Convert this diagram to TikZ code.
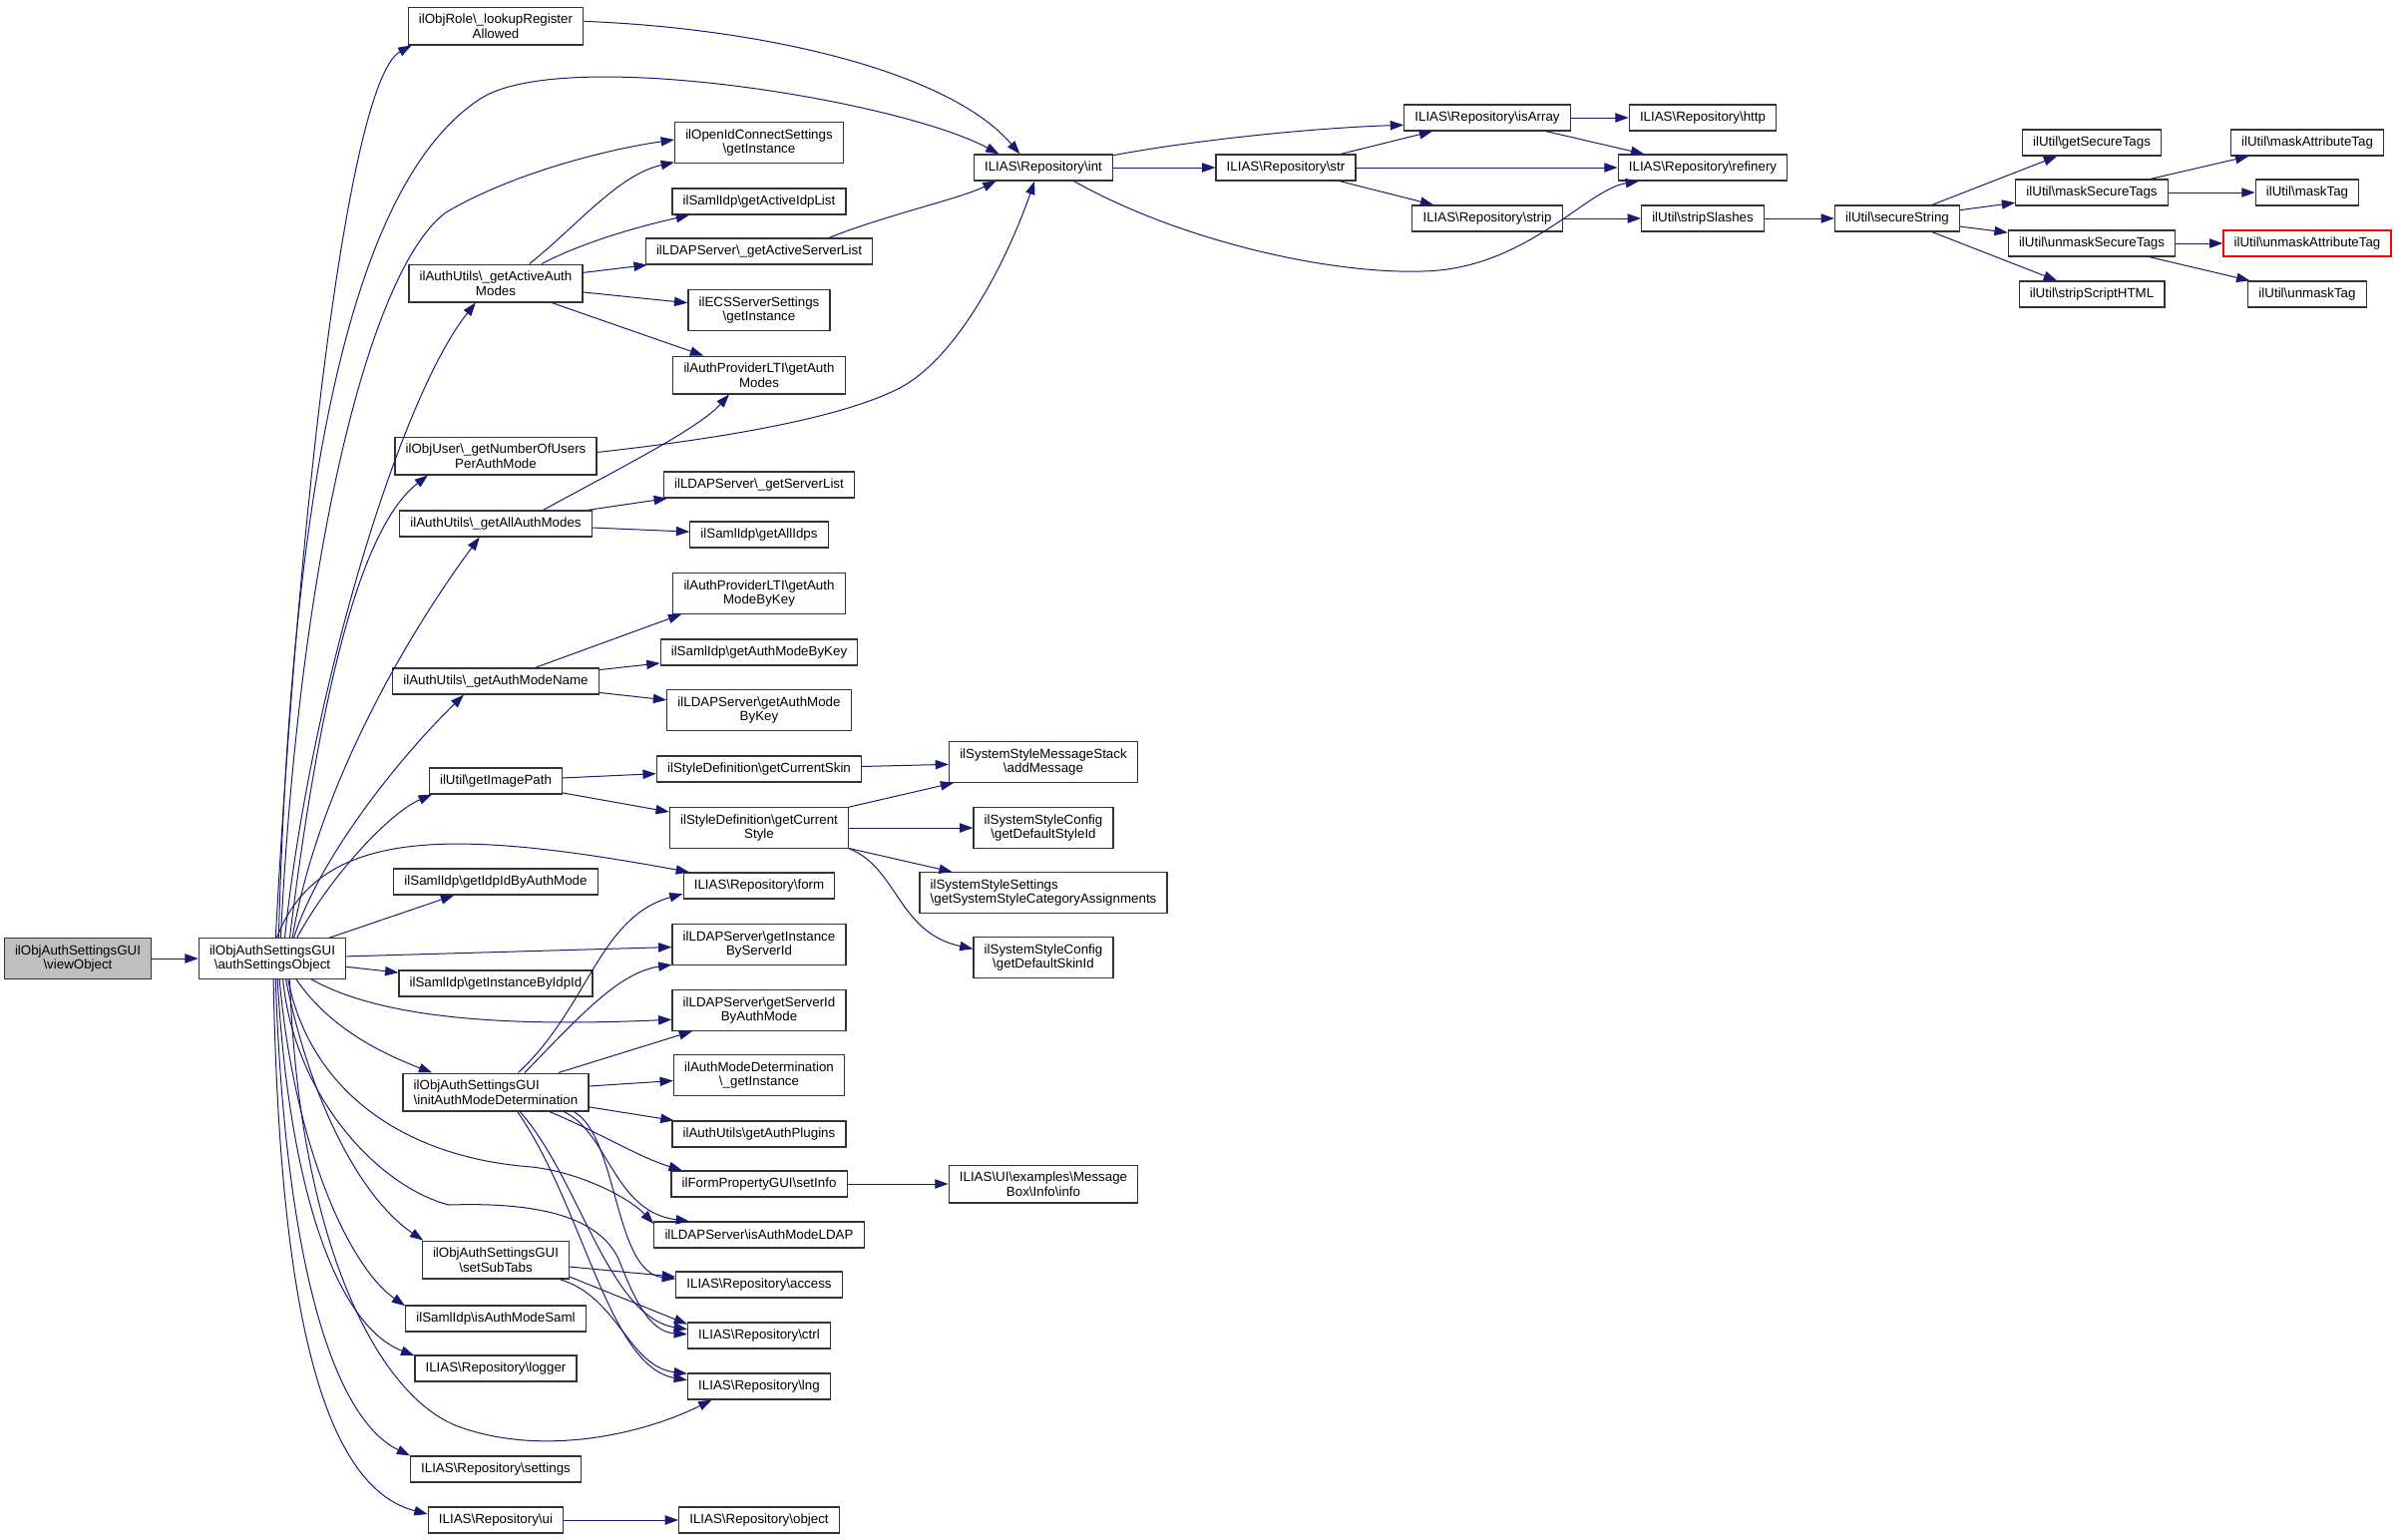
\documentclass[tikz,border=0pt]{standalone}
\usepackage{fontspec}
\setmainfont{Liberation Sans}
\usetikzlibrary{arrows.meta}
\newcommand{\bsl}{\textbackslash}
\definecolor{callblue}{HTML}{191970}
\definecolor{framegrey}{HTML}{333333}
\tikzset{%
    fn/.style={%
        rectangle,
        draw=framegrey,
        line width=0.9pt,
        fill=white,
        align=center,
        font=\fontsize{10}{11}\selectfont,
        inner xsep=8pt,
        inner ysep=5pt,
        minimum height=19.5pt
    },
    root/.style={%
        fn,
        fill=black!25
    },
    undoc/.style={%
        fn,
        draw=red
    },
    call/.style={%
        draw=callblue,
        line width=0.75pt,
        -{Triangle[length=10pt,width=7pt]}
    }
}
\begin{document}
\begin{tikzpicture}[x=0.75pt,y=-0.75pt]
\useasboundingbox (0,0) rectangle (2404,1543);
\node[root] (view) at (78,961) {ilObjAuthSettingsGUI\\\bsl viewObject};
\node[fn] (auth) at (273,961) {ilObjAuthSettingsGUI\\\bsl authSettingsObject};
\node[fn] (role) at (497,26) {ilObjRole\bsl\_lookupRegister\\Allowed};
\node[fn] (activemodes) at (497,284) {ilAuthUtils\bsl\_getActiveAuth\\Modes};
\node[fn] (numusers) at (497,457) {ilObjUser\bsl\_getNumberOfUsers\\PerAuthMode};
\node[fn] (allmodes) at (497,525) {ilAuthUtils\bsl\_getAllAuthModes};
\node[fn] (modename) at (497,683) {ilAuthUtils\bsl\_getAuthModeName};
\node[fn] (imgpath) at (497,783) {ilUtil\bsl getImagePath};
\node[fn] (idpbymode) at (497,884) {ilSamlIdp\bsl getIdpIdByAuthMode};
\node[fn] (instbyidp) at (497,986) {ilSamlIdp\bsl getInstanceByIdpId};
\node[fn,align=left] (initamd) at (497,1095) {ilObjAuthSettingsGUI\\\bsl initAuthModeDetermination};
\node[fn] (subtabs) at (497,1263) {ilObjAuthSettingsGUI\\\bsl setSubTabs};
\node[fn] (issaml) at (497,1322) {ilSamlIdp\bsl isAuthModeSaml};
\node[fn] (logger) at (497,1372) {ILIAS\bsl Repository\bsl logger};
\node[fn] (settings) at (497,1473) {ILIAS\bsl Repository\bsl settings};
\node[fn] (ui) at (497,1524) {ILIAS\bsl Repository\bsl ui};
\node[fn] (oidc) at (761,143) {ilOpenIdConnectSettings\\\bsl getInstance};
\node[fn] (activeidp) at (761,202) {ilSamlIdp\bsl getActiveIdpList};
\node[fn] (activesrv) at (761,252) {ilLDAPServer\bsl\_getActiveServerList};
\node[fn] (ecs) at (761,311) {ilECSServerSettings\\\bsl getInstance};
\node[fn] (ltimodes) at (761,376) {ilAuthProviderLTI\bsl getAuth\\Modes};
\node[fn] (srvlist) at (761,486) {ilLDAPServer\bsl\_getServerList};
\node[fn] (allidps) at (761,536) {ilSamlIdp\bsl getAllIdps};
\node[fn] (ltikey) at (761,595) {ilAuthProviderLTI\bsl getAuth\\ModeByKey};
\node[fn] (samlkey) at (761,654) {ilSamlIdp\bsl getAuthModeByKey};
\node[fn] (ldapkey) at (761,712) {ilLDAPServer\bsl getAuthMode\\ByKey};
\node[fn] (skin) at (761,771) {ilStyleDefinition\bsl getCurrentSkin};
\node[fn] (style) at (761,830) {ilStyleDefinition\bsl getCurrent\\Style};
\node[fn] (form) at (761,888) {ILIAS\bsl Repository\bsl form};
\node[fn] (instbysrv) at (761,947) {ilLDAPServer\bsl getInstance\\ByServerId};
\node[fn] (srvbymode) at (761,1013) {ilLDAPServer\bsl getServerId\\ByAuthMode};
\node[fn] (amdinst) at (761,1078) {ilAuthModeDetermination\\\bsl\_getInstance};
\node[fn] (plugins) at (761,1137) {ilAuthUtils\bsl getAuthPlugins};
\node[fn] (setinfo) at (761,1187) {ilFormPropertyGUI\bsl setInfo};
\node[fn] (isldap) at (761,1238) {ilLDAPServer\bsl isAuthModeLDAP};
\node[fn] (access) at (761,1288) {ILIAS\bsl Repository\bsl access};
\node[fn] (ctrl) at (761,1339) {ILIAS\bsl Repository\bsl ctrl};
\node[fn] (lng) at (761,1390) {ILIAS\bsl Repository\bsl lng};
\node[fn] (object) at (761,1524) {ILIAS\bsl Repository\bsl object};
\node[fn] (addmsg) at (1046,764) {ilSystemStyleMessageStack\\\bsl addMessage};
\node[fn] (defstyle) at (1046,830) {ilSystemStyleConfig\\\bsl getDefaultStyleId};
\node[fn,align=left] (catassign) at (1046,895) {ilSystemStyleSettings\\\bsl getSystemStyleCategoryAssignments};
\node[fn] (defskin) at (1046,960) {ilSystemStyleConfig\\\bsl getDefaultSkinId};
\node[fn] (msginfo) at (1046,1187) {ILIAS\bsl UI\bsl examples\bsl Message\\Box\bsl Info\bsl info};
\node[fn] (int) at (1046,168) {ILIAS\bsl Repository\bsl int};
\node[fn] (str) at (1289,168) {ILIAS\bsl Repository\bsl str};
\node[fn] (isarray) at (1491,118) {ILIAS\bsl Repository\bsl isArray};
\node[fn] (strip) at (1491,219) {ILIAS\bsl Repository\bsl strip};
\node[fn] (http) at (1707,118) {ILIAS\bsl Repository\bsl http};
\node[fn] (refinery) at (1707,168) {ILIAS\bsl Repository\bsl refinery};
\node[fn] (slashes) at (1707,219) {ilUtil\bsl stripSlashes};
\node[fn] (secure) at (1902,219) {ilUtil\bsl secureString};
\node[fn] (gettags) at (2097,143) {ilUtil\bsl getSecureTags};
\node[fn] (masktags) at (2097,193) {ilUtil\bsl maskSecureTags};
\node[fn] (unmasktags) at (2097,244) {ilUtil\bsl unmaskSecureTags};
\node[fn] (stripscript) at (2097,295) {ilUtil\bsl stripScriptHTML};
\node[fn] (maskattr) at (2313,143) {ilUtil\bsl maskAttributeTag};
\node[fn] (masktag) at (2313,193) {ilUtil\bsl maskTag};
\node[undoc] (unmaskattr) at (2313,244) {ilUtil\bsl unmaskAttributeTag};
\node[fn] (unmasktag) at (2313,295) {ilUtil\bsl unmaskTag};

\draw[call] (view) -- (auth);
\draw[call] (auth.81) .. controls (300,500) and (350,80) .. (role.193);
\draw[call] (auth.73) .. controls (295,350) and (390,160) .. (480,100) .. controls (560,45) and (900,100) .. (int.163);
\draw[call] (auth.68) .. controls (300,560) and (370,270) .. (447,213) .. controls (520,170) and (620,148) .. (oidc.178);
\draw[call] (auth.59) .. controls (310,700) and (400,400) .. (activemodes.224);
\draw[call] (auth.50) .. controls (320,700) and (360,530) .. (numusers.196);
\draw[call] (auth.46) .. controls (320,780) and (420,620) .. (allmodes.220);
\draw[call] (auth.44) .. controls (320,860) and (400,760) .. (modename.203);
\draw[call] (auth.40) .. controls (330,880) and (390,815) .. (imgpath.192);
\draw[call] (auth.78) .. controls (320,830) and (450,830) .. (form.169);
\draw[call] (auth.20) -- (idpbymode.198);
\draw[call] (auth) -- (instbysrv);
\draw[call] (auth) -- (instbyidp);
\draw[call] (auth.-28) .. controls (380,1020) and (500,1030) .. (srvbymode.186);
\draw[call] (auth.-41) .. controls (330,1030) and (380,1055) .. (initamd.163);
\draw[call] (auth.-53) .. controls (310,1090) and (400,1160) .. (533,1170) .. controls (580,1175) and (630,1200) .. (isldap.174);
\draw[call] (auth.-57) .. controls (310,1100) and (360,1200) .. (subtabs.165);
\draw[call] (auth.-63) .. controls (295,1100) and (380,1190) .. (450,1208) .. controls (540,1205) and (600,1220) .. (620,1262) .. controls (635,1300) and (650,1335) .. (ctrl.179);
\draw[call] (auth.-71) .. controls (295,1150) and (350,1270) .. (issaml.172);
\draw[call] (auth.-76) .. controls (290,1200) and (340,1330) .. (logger.171);
\draw[call] (auth.-50) .. controls (300,1250) and (380,1400) .. (459,1430) .. controls (540,1460) and (640,1440) .. (lng.196);
\draw[call] (auth.-81) .. controls (285,1250) and (330,1420) .. (settings.171);
\draw[call] (auth.-87) .. controls (280,1300) and (320,1490) .. (ui.175);

\draw[call] (role.3) .. controls (760,28) and (950,70) .. (int.150);
\draw[call] (activemodes.30) .. controls (580,225) and (620,175) .. (oidc.193);
\draw[call] (activemodes.23) .. controls (590,240) and (650,225) .. (activeidp.191);
\draw[call] (activemodes) -- (activesrv);
\draw[call] (activemodes) -- (ecs);
\draw[call] (activemodes) -- (ltimodes);
\draw[call] (activesrv.11) .. controls (890,215) and (960,200) .. (int.196);
\draw[call] (numusers.2) .. controls (720,440) and (840,420) .. (900,390) .. controls (960,360) and (1010,260) .. (int.237);
\draw[call] (allmodes.16) .. controls (620,470) and (700,430) .. (ltimodes.213);
\draw[call] (allmodes) -- (srvlist);
\draw[call] (allmodes) -- (allidps);
\draw[call] (modename.19) -- (ltikey.195);
\draw[call] (modename) -- (samlkey);
\draw[call] (modename) -- (ldapkey);
\draw[call] (imgpath) -- (skin);
\draw[call] (imgpath) -- (style);
\draw[call] (skin) -- (addmsg);
\draw[call] (style) -- (addmsg);
\draw[call] (style) -- (defstyle);
\draw[call] (style) -- (catassign);
\draw[call] (style.-13) .. controls (900,870) and (900,935) .. (defskin.173);

\draw[call] (initamd.41) .. controls (590,1010) and (600,920) .. (form.186);
\draw[call] (initamd.34) .. controls (580,1020) and (620,975) .. (instbysrv.193);
\draw[call] (initamd) -- (srvbymode);
\draw[call] (initamd) -- (amdinst);
\draw[call] (initamd) -- (plugins);
\draw[call] (initamd.-20) .. controls (600,1135) and (640,1160) .. (setinfo.170);
\draw[call] (initamd.-16) .. controls (610,1135) and (615,1215) .. (isldap.169);
\draw[call] (initamd.-14) .. controls (620,1140) and (615,1275) .. (access.176);
\draw[call] (initamd.-39) .. controls (580,1180) and (610,1320) .. (ctrl.175);
\draw[call] (initamd.-42) .. controls (585,1210) and (610,1370) .. (lng.175);
\draw[call] (subtabs) -- (access);
\draw[call] (subtabs.-13) -- (ctrl.171);
\draw[call] (subtabs.-17) .. controls (620,1300) and (630,1370) .. (lng.170);
\draw[call] (setinfo) -- (msginfo);
\draw[call] (ui) -- (object);

\draw[call] (int.10) .. controls (1200,140) and (1320,128) .. (isarray.185);
\draw[call] (int) -- (str);
\draw[call] (int.-24) .. controls (1180,240) and (1330,275) .. (1426,272) .. controls (1530,270) and (1590,190) .. (refinery.192);
\draw[call] (str) -- (isarray);
\draw[call] (str) -- (refinery);
\draw[call] (str) -- (strip);
\draw[call] (isarray) -- (http);
\draw[call] (isarray) -- (refinery);
\draw[call] (strip) -- (slashes);
\draw[call] (slashes) -- (secure);
\draw[call] (secure) -- (gettags);
\draw[call] (secure) -- (masktags);
\draw[call] (secure) -- (unmasktags);
\draw[call] (secure) -- (stripscript);
\draw[call] (masktags) -- (maskattr);
\draw[call] (masktags) -- (masktag);
\draw[call] (unmasktags) -- (unmaskattr);
\draw[call] (unmasktags) -- (unmasktag);
\end{tikzpicture}
\end{document}
